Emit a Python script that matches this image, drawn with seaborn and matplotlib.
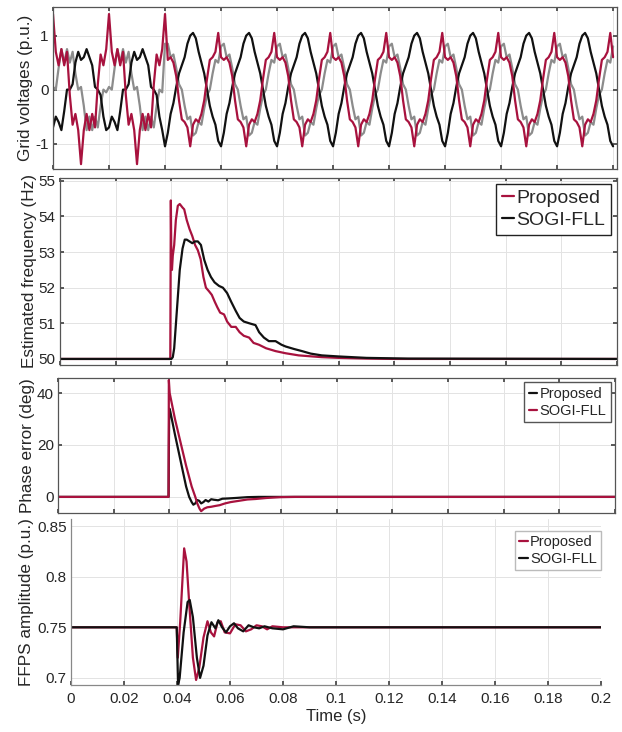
import numpy as np
import seaborn as sns
import matplotlib
matplotlib.use("Agg")
import matplotlib.pyplot as plt

# colours
red = "#A8123E"
black = "#111111"
gray = "#8C8C8C"

# ---- grid voltages: one 20 ms cycle, 1 ms steps ----
va_pre = [1.4, 0.7, 0.45, 0.75, 0.45, 0.7, -0.1, -0.65, -0.45, -0.75,
          -1.38, -0.75, -0.45, -0.75, -0.45, -0.7, 0.1, 0.65, 0.45, 0.75]
vb_pre = [-0.7, -0.5, -0.6, -0.75, -0.4, 0.0, 0.0, 0.1, 0.5, 0.7,
          0.55, 0.6, 0.75, 0.6, 0.45, 0.05, 0.0, -0.1, -0.5, -0.75]
vc_pre = [0.05, 0.0, 0.4, 0.75, 0.5, 0.75, 0.5, 0.7, 0.3, 0.0,
          0.05, -0.3, -0.75, -0.5, -0.75, -0.5, -0.7, -0.3, 0.0, -0.05]
# sample at the step instant (t = 0.04 s)
v_step = [1.4, -1.05, 0.85]
va_post = [0.6, 0.55, 0.6, 0.5, 0.25, -0.2, -0.55, -0.6, -0.7, -1.05,
           -0.65, -0.55, -0.6, -0.45, -0.2, 0.2, 0.55, 0.6, 0.7, 1.05]
vb_post = [-1.05, -0.8, -0.45, -0.25, 0.05, 0.3, 0.45, 0.6, 0.85, 1.0,
           1.05, 0.95, 0.7, 0.5, 0.3, 0.0, -0.3, -0.5, -0.65, -0.95]
vc_post = [0.8, 0.85, 0.6, 0.65, 0.4, 0.1, 0.0, -0.3, -0.55, -0.5,
           -0.85, -0.8, -0.6, -0.65, -0.35, -0.1, 0.0, 0.3, 0.55, 0.5]

t_v = np.round(np.arange(0, 201) * 0.001, 4)


def build(pre, step, post):
    return np.concatenate([np.tile(pre, 2), [step], np.tile(post, 8)[1:], post[:1]])


va = build(va_pre, v_step[0], va_post)
vb = build(vb_pre, v_step[1], vb_post)
vc = build(vc_pre, v_step[2], vc_post)

# ---- estimated frequency ----
t_f_prop = [0, 0.0396, 0.0398, 0.0400, 0.0402, 0.0405, 0.0410, 0.0416, 0.0423, 0.0430,
            0.0440, 0.0446, 0.0455, 0.0465, 0.0475, 0.0485, 0.0495, 0.0505, 0.0515, 0.0524,
            0.0535, 0.0545, 0.0556, 0.0565, 0.0575, 0.0589, 0.0600, 0.0615, 0.0631, 0.0645,
            0.0660, 0.0679, 0.0695, 0.0714, 0.0740, 0.0774, 0.0810, 0.0857, 0.0940, 0.1000,
            0.1100, 0.1200, 0.2]
f_prop = [50, 50, 54.45, 52.6, 52.5, 52.9, 53.2, 53.9, 54.3, 54.35,
          54.25, 54.2, 53.9, 53.65, 53.45, 53.2, 53.05, 52.8, 52.3, 52.0,
          51.9, 51.8, 51.6, 51.45, 51.3, 51.25, 51.05, 50.9, 50.9, 50.75,
          50.65, 50.6, 50.45, 50.4, 50.3, 50.22, 50.16, 50.1, 50.05, 50.03,
          50.01, 50.0, 50.0]
t_f_sogi = [0, 0.0400, 0.0405, 0.0410, 0.0420, 0.0430, 0.0440, 0.0448, 0.0455, 0.0465,
            0.0475, 0.0485, 0.0495, 0.0506, 0.0518, 0.0530, 0.0542, 0.0555, 0.0571, 0.0585,
            0.0600, 0.0615, 0.0631, 0.0645, 0.0660, 0.0680, 0.0702, 0.0715, 0.0732, 0.0750,
            0.0774, 0.0795, 0.0810, 0.0840, 0.0869, 0.0900, 0.0940, 0.1000, 0.1100, 0.1250,
            0.2]
f_sogi = [50, 50, 50.05, 50.3, 51.4, 52.5, 53.1, 53.35, 53.35, 53.3,
          53.25, 53.3, 53.3, 53.2, 52.78, 52.5, 52.3, 52.15, 52.05, 52.0,
          51.85, 51.6, 51.35, 51.15, 51.05, 51.0, 50.95, 50.75, 50.6, 50.5,
          50.5, 50.4, 50.35, 50.28, 50.22, 50.15, 50.1, 50.07, 50.03, 50.01,
          50.0]

# ---- phase error ----
t_p_prop = [0, 0.0397, 0.0398, 0.0399, 0.0400, 0.0403, 0.0420, 0.0440, 0.0460, 0.0471,
            0.0480, 0.0486, 0.0493, 0.0500, 0.0507, 0.0514, 0.0522, 0.0530, 0.0540, 0.0550,
            0.0560, 0.0575, 0.0590, 0.0610, 0.0640, 0.0680, 0.0720, 0.2]
p_prop = [0, 0, 17, 30, 34, 33, 24, 14, 4, 0,
          -2, -3, -2.5, -1.2, -1.5, -2.5, -2, -1.2, -1.8, -0.9,
          -1.1, -1.3, -0.7, -0.6, -0.4, -0.1, 0, 0]
t_p_sogi = [0, 0.0397, 0.0398, 0.0401, 0.0420, 0.0440, 0.0460, 0.0480, 0.0493, 0.0500,
            0.0508, 0.0514, 0.0525, 0.0536, 0.0550, 0.0564, 0.0580, 0.0600, 0.0620, 0.0650,
            0.0680, 0.0710, 0.0750, 0.0800, 0.0850, 0.2]
p_sogi = [0, 0, 45, 40, 30, 21, 12, 4, 0, -2.5,
          -4.5, -5.5, -4.5, -4, -3.8, -3.5, -3.2, -2.5, -2.0, -1.5,
          -1.0, -0.8, -0.4, -0.1, 0, 0]

# ---- FFPS amplitude ----
t_a_prop = [0, 0.0399, 0.0403, 0.0412, 0.0427, 0.0436, 0.0447, 0.0460, 0.0472, 0.0484,
            0.0500, 0.0515, 0.0528, 0.0540, 0.0553, 0.0565, 0.0580, 0.0600, 0.0620, 0.0640,
            0.0660, 0.0680, 0.0700, 0.0720, 0.0740, 0.0760, 0.0800, 0.2]
a_prop = [0.75, 0.75, 0.72, 0.755, 0.828, 0.815, 0.77, 0.72, 0.698, 0.71,
          0.74, 0.756, 0.745, 0.741, 0.755, 0.756, 0.745, 0.744, 0.753, 0.752,
          0.746, 0.748, 0.752, 0.751, 0.748, 0.751, 0.75, 0.75]
t_a_sogi = [0, 0.0399, 0.0404, 0.0410, 0.0425, 0.0440, 0.0448, 0.0460, 0.0475, 0.0487,
            0.0500, 0.0515, 0.0530, 0.0545, 0.0556, 0.0570, 0.0585, 0.0600, 0.0615, 0.0630,
            0.0650, 0.0670, 0.0690, 0.0710, 0.0730, 0.0760, 0.0800, 0.0840, 0.0900, 0.2]
a_sogi = [0.75, 0.75, 0.693, 0.70, 0.745, 0.775, 0.777, 0.76, 0.72, 0.70,
          0.712, 0.742, 0.755, 0.749, 0.757, 0.75, 0.745, 0.751, 0.754, 0.749,
          0.746, 0.752, 0.750, 0.749, 0.751, 0.749, 0.748, 0.751, 0.75, 0.75]

x_ticks = [0, 0.02, 0.04, 0.06, 0.08, 0.1, 0.12, 0.14, 0.16, 0.18, 0.2]
x_labels = ["0", "0.02", "0.04", "0.06", "0.08", "0.1", "0.12", "0.14", "0.16", "0.18", "0.2"]

sns.set_theme(style="whitegrid")
plt.rcParams["font.family"] = ["Liberation Sans", "DejaVu Sans"]
plt.rcParams["axes.unicode_minus"] = False

fig = plt.figure(figsize=(6.22, 7.32), dpi=100)
W, H = 622, 732


def box(l, t, r, b):
    return fig.add_axes([l / W, 1 - b / H, (r - l) / W, (b - t) / H])


ax1 = box(53, 7, 617, 169)
ax2 = box(60, 178, 617, 365)
ax3 = box(58, 378, 615, 513)
ax4 = box(71, 519, 601, 685)

lw = 1.6
sns.lineplot(x=t_v, y=vc, ax=ax1, color=gray, lw=lw, estimator=None, sort=False)
sns.lineplot(x=t_v, y=vb, ax=ax1, color=black, lw=lw, estimator=None, sort=False)
sns.lineplot(x=t_v, y=va, ax=ax1, color=red, lw=lw, estimator=None, sort=False)

sns.lineplot(x=t_f_prop, y=f_prop, ax=ax2, color=red, lw=lw, label="Proposed", estimator=None, sort=False)
sns.lineplot(x=t_f_sogi, y=f_sogi, ax=ax2, color=black, lw=lw, label="SOGI-FLL", estimator=None, sort=False)

sns.lineplot(x=t_p_prop, y=p_prop, ax=ax3, color=black, lw=lw, label="Proposed", estimator=None, sort=False)
sns.lineplot(x=t_p_sogi, y=p_sogi, ax=ax3, color=red, lw=lw, label="SOGI-FLL", estimator=None, sort=False)

sns.lineplot(x=t_a_prop, y=a_prop, ax=ax4, color=red, lw=lw, label="Proposed", estimator=None, sort=False)
sns.lineplot(x=t_a_sogi, y=a_sogi, ax=ax4, color=black, lw=lw, label="SOGI-FLL", estimator=None, sort=False)

ax1.set_xlim(0, 0.2014)
ax1.set_ylim(-1.47, 1.53)
ax1.set_yticks([-1, 0, 1])
ax1.set_ylabel("Grid voltages (p.u.)", labelpad=2)

ax2.set_xlim(0, 0.199)
ax2.set_ylim(49.83, 55.08)
ax2.set_yticks([50, 51, 52, 53, 54, 55])
ax2.set_ylabel("Estimated frequency (Hz)", labelpad=1)

ax3.set_xlim(0, 0.199)
ax3.set_ylim(-6.2, 45.8)
ax3.set_yticks([0, 20, 40])
ax3.set_ylabel("Phase error (deg)", labelpad=1)

ax4.set_xlim(0, 0.2)
ax4.set_ylim(0.693, 0.857)
ax4.set_yticks([0.7, 0.75, 0.8, 0.85])
ax4.set_yticklabels(["0.7", "0.75", "0.8", "0.85"])
ax4.set_ylabel("FFPS amplitude (p.u.)", labelpad=2)
ax4.set_xlabel("Time (s)", fontsize=12, labelpad=2)

for ax in [ax1, ax2, ax3, ax4]:
    ax.set_xticks(x_ticks)
    ax.grid(True, color="#e3e3e3", lw=0.7)
    ax.set_facecolor("white")
    ax.tick_params(direction="in", length=3, labelsize=11, pad=3, color="#444444")
    ax.yaxis.label.set_size(12.3)
    for s in ax.spines.values():
        s.set_color("#555555")
        s.set_linewidth(0.9)

for ax in [ax1, ax2, ax3]:
    ax.set_xticklabels([])
    ax.tick_params(top=True, right=True, bottom=True, left=True)

ax4.set_xticklabels(x_labels)
ax4.tick_params(bottom=True, left=True, axis="x", pad=5)
ax4.spines["top"].set_visible(False)
ax4.spines["right"].set_visible(False)
ax4.spines["left"].set_color("#888888")
ax4.spines["bottom"].set_color("#888888")

leg_kw = dict(handlelength=0.6, handletextpad=0.15, borderpad=0.3, labelspacing=0.2,
              fancybox=False, framealpha=1)
ax2.legend(loc="upper right", fontsize=14, edgecolor="#222222", borderaxespad=0.3, **leg_kw)
ax3.legend(loc="upper right", fontsize=10.5, edgecolor="#555555", borderaxespad=0.3, **leg_kw)
ax4.legend(loc="upper right", fontsize=10.5, edgecolor="#bbbbbb",
           bbox_to_anchor=(1.0, 0.93), borderaxespad=0.0, **leg_kw)

fig.savefig("out.png", dpi=100)
